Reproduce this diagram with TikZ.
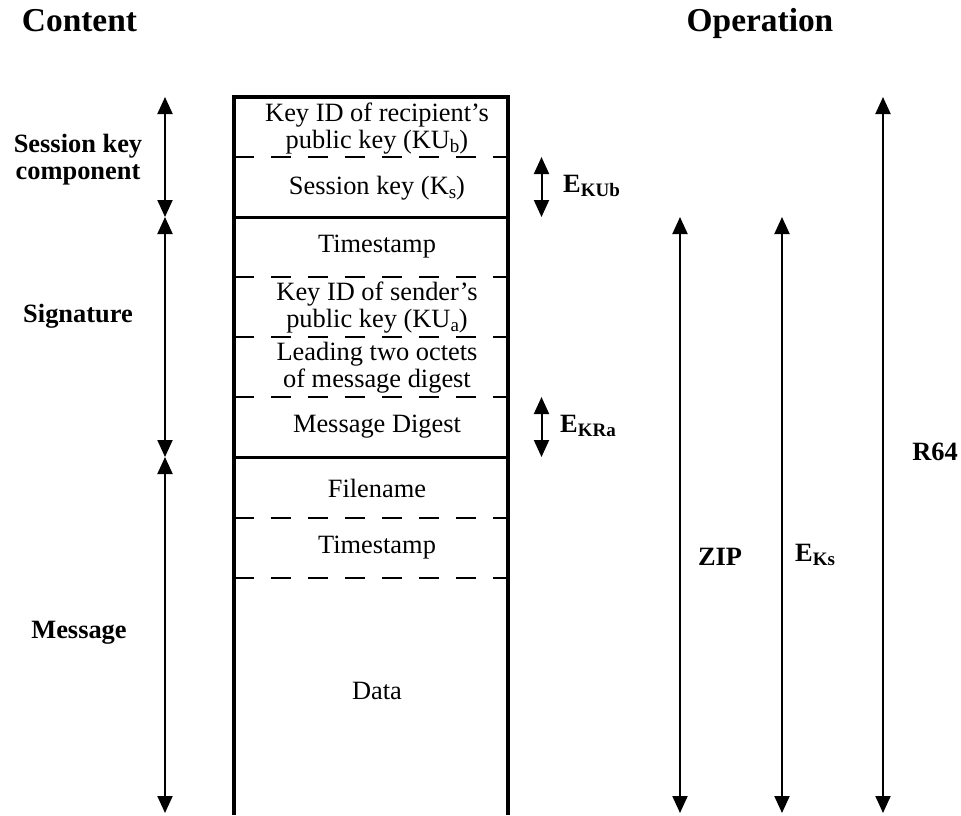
\documentclass[tikz,border=0pt]{standalone}
\usepackage{fontspec}
\setmainfont{Liberation Serif}
\usepackage{tikz}
\usetikzlibrary{arrows.meta, calc}
\newcommand{\lowsub}[1]{\raisebox{-4pt}{\fontsize{19}{19}\selectfont #1}}
\tikzset{
  fld/.style={font=\fontsize{26.4}{27}\selectfont, align=center, inner sep=0pt},
  lbl/.style={font=\fontsize{26.4}{27}\selectfont\bfseries, align=center, inner sep=0pt},
  hdr/.style={font=\fontsize{33.4}{36}\selectfont\bfseries, inner sep=0pt, anchor=base},
  dimarr/.style={{Triangle[length=17pt,width=15pt]}-{Triangle[length=17pt,width=15pt]}, line width=2pt},
  solidsep/.style={line width=3pt},
  dashsep/.style={line width=2pt, dash pattern=on 20pt off 17pt}
}

\begin{document}
\begin{tikzpicture}[x=1pt, y=-1pt]
\useasboundingbox (0,0) rectangle (961,815);
% ===== headings =====
\node[hdr] (hcont) at (79.5,31) {Content};
\node[hdr] (hop) at (760,31) {Operation};
% ===== packet box: row boundaries =====
\foreach \yy/\nm in {97/0,157/1,217/2,277/3,337/4,397/5,457/6,518/7,578/8,815/9}{
  \coordinate (bl\nm) at (234,\yy);
  \coordinate (br\nm) at (508,\yy);
}
\draw[line width=3.5pt] (bl9) -- (bl0) -- (br0) -- (br9);
\foreach \nm in {2,6} \draw[solidsep] (bl\nm) -- (br\nm);
\foreach \nm in {1,3,4,5,7,8} \draw[dashsep] (bl\nm) -- (br\nm);
% fields
\node[fld] (kidb) at (377,129) {Key ID of recipient's\\public key (KU\lowsub{b})};
\node[fld] (skey) at (377,188) {Session key (K\lowsub{s})};
\node[fld] (tsa) at (377,247) {Timestamp};
\node[fld] (kida) at (377,308) {Key ID of sender's\\public key (KU\lowsub{a})};
\node[fld] (lead) at (377,368) {Leading two octets\\of message digest};
\node[fld] (mdig) at (377,427) {Message Digest};
\node[fld] (fname) at (377,488) {Filename};
\node[fld] (tsb) at (377,548) {Timestamp};
\node[fld] (data) at (377,691) {Data};
% ===== content side =====
\node[lbl] (lsess) at (78,160) {Session key\\component};
\node[lbl] (lsig) at (78,316) {Signature};
\node[lbl] (lmsg) at (79,633) {Message};
\coordinate (ca) at (165,97);
\coordinate (cb) at (165,217);
\coordinate (cc) at (165,457);
\coordinate (cd) at (165,813);
\draw[dimarr] (ca) -- (cb);
\draw[dimarr] (cb) -- (cc);
\draw[dimarr] (cc) -- (cd);
% ===== operation side =====
\coordinate (ea) at (541.5,157);
\coordinate (eb) at (541.5,217);
\coordinate (ec) at (541.5,397);
\coordinate (ed) at (541.5,457);
\draw[dimarr] (ea) -- (eb);
\draw[dimarr] (ec) -- (ed);
\node[lbl, anchor=west] (ekub) at (563,186) {E\lowsub{KUb}};
\node[lbl, anchor=west] (ekra) at (560,426) {E\lowsub{KRa}};
\coordinate (za) at (680,217);
\coordinate (zb) at (680,813);
\coordinate (ka) at (782,217);
\coordinate (kb) at (782,813);
\coordinate (ra) at (883,97);
\coordinate (rb) at (883,813);
\draw[dimarr] (za) -- (zb);
\draw[dimarr] (ka) -- (kb);
\draw[dimarr] (ra) -- (rb);
\node[lbl] (zip) at (720,557) {ZIP};
\node[lbl, anchor=west] (eks) at (795,555) {E\lowsub{Ks}};
\node[lbl] (r64) at (935,452) {R64};
\end{tikzpicture}
\end{document}
